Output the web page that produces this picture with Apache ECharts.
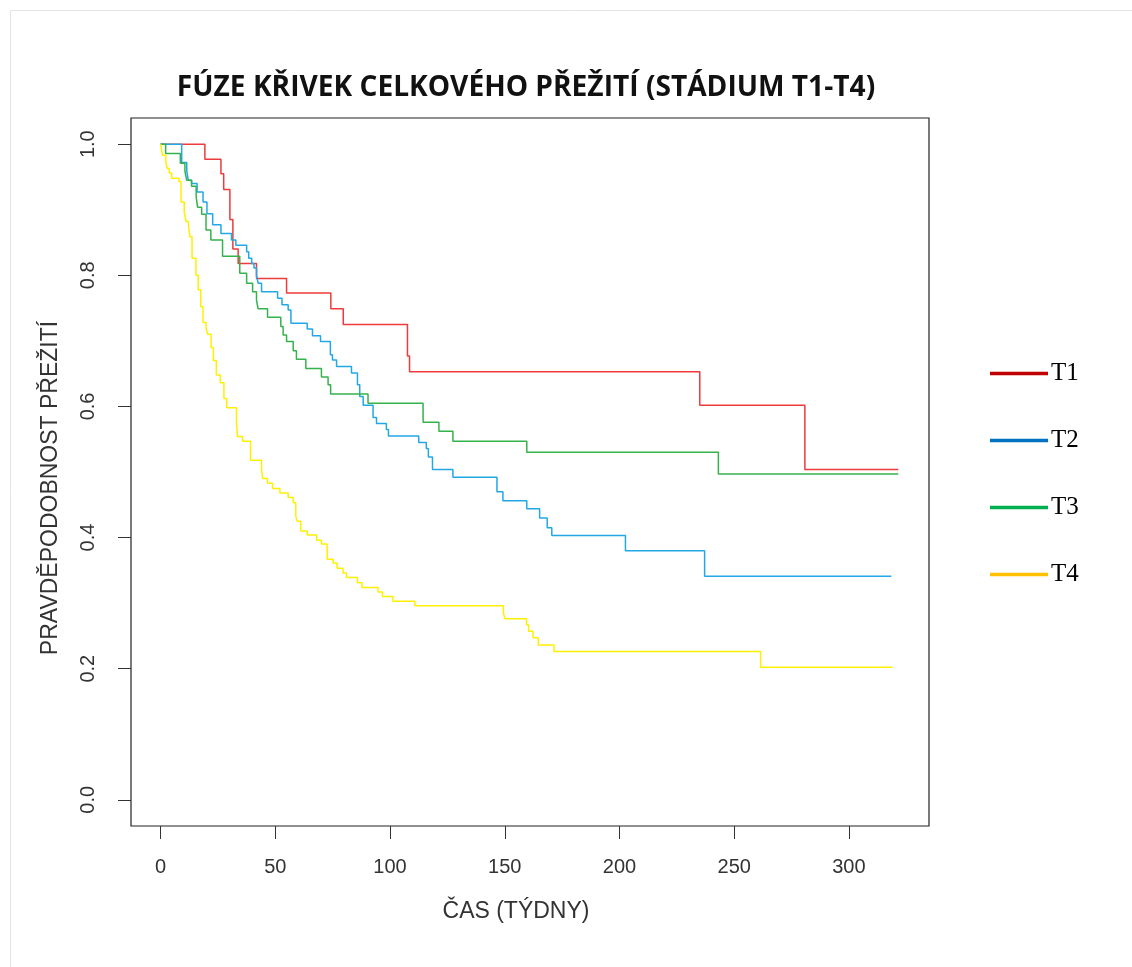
<!DOCTYPE html>
<html>
<head>
<meta charset="utf-8">
<title>Fúze křivek celkového přežití</title>
<script src="https://cdn.jsdelivr.net/npm/echarts@6/dist/echarts.min.js"></script>
<style>
  html, body { margin: 0; padding: 0; background: #fff; }
  #chart { width: 1132px; height: 967px; }
</style>
</head>
<body>
<div id="chart"></div>
<script>
// Kaplan–Meier survival estimates per tumour stage: event times (weeks) and survival after each step
const timeT1 = [0, 19.3, 26.3, 27.5, 30.2, 31.5, 33.8, 41.8, 54.9, 74.2, 79.6, 107.6, 108.5, 235.0, 280.8, 321.5];
const survT1 = [1.0, 0.977, 0.955, 0.931, 0.885, 0.840, 0.818, 0.795, 0.773, 0.749, 0.725, 0.677, 0.653, 0.602, 0.504, 0.504];

const timeT2 = [0, 9.2, 11.4, 12.1, 13.5, 15.9, 18.5, 20.2, 22.7, 26.3, 30.9, 32.8, 37.5, 38.4, 39.7, 40.7, 41.8, 42.5, 44.0,
  51.0, 52.9, 55.6, 56.8, 63.9, 66.2, 69.7, 74.0, 74.9, 76.7, 83.2, 85.8, 86.8, 88.3, 92.6, 94.1, 98.4, 99.3, 112.5, 115.8,
  116.7, 118.5, 127.4, 146.6, 149.2, 159.6, 165.2, 168.5, 170.5, 202.6, 237.1, 318.5];
const survT2 = [1.0, 0.972, 0.959, 0.945, 0.940, 0.927, 0.912, 0.894, 0.877, 0.864, 0.854, 0.846, 0.836, 0.826, 0.818, 0.811, 0.800, 0.788, 0.775,
  0.765, 0.755, 0.747, 0.727, 0.718, 0.708, 0.699, 0.679, 0.671, 0.661, 0.651, 0.633, 0.615, 0.602, 0.583, 0.574, 0.565, 0.555, 0.545, 0.536,
  0.523, 0.504, 0.492, 0.470, 0.456, 0.444, 0.430, 0.415, 0.403, 0.380, 0.341, 0.341];

const timeT3 = [0, 2.2, 8.6, 10.6, 11.4, 13.5, 15.5, 16.1, 17.9, 19.8, 21.9, 27.0, 34.5, 37.5, 40.1, 41.8, 42.5, 46.6, 52.4,
  53.4, 54.9, 57.8, 59.2, 63.3, 70.1, 73.0, 74.1, 90.4, 114.4, 121.3, 127.4, 159.6, 243.1, 321.5];
const survT3 = [1.0, 0.986, 0.971, 0.959, 0.945, 0.936, 0.920, 0.904, 0.893, 0.869, 0.854, 0.829, 0.803, 0.788, 0.775, 0.762, 0.749, 0.736, 0.722,
  0.709, 0.699, 0.685, 0.672, 0.658, 0.645, 0.633, 0.619, 0.605, 0.576, 0.562, 0.547, 0.530, 0.497, 0.497];

const timeT4 = [0, 0.8, 2.3, 2.9, 3.8, 4.8, 8.0, 8.9, 10.3, 11.1, 12.1, 12.8, 13.7, 15.4, 16.4, 17.5, 18.5, 19.8, 20.5, 22.0,
  23.0, 24.3, 26.0, 27.6, 28.8, 33.1, 33.5, 35.7, 39.2, 44.0, 44.5, 46.6, 48.8, 52.0, 55.6, 57.8, 58.9, 59.5, 61.1, 63.9,
  68.0, 70.1, 72.6, 75.2, 76.9, 79.5, 81.0, 85.8, 87.8, 94.8, 96.7, 101.3, 110.8, 149.4, 150.1, 159.5, 160.4, 162.3, 164.6,
  171.5, 261.5, 319.0];
const survT4 = [1.0, 0.983, 0.973, 0.963, 0.956, 0.948, 0.943, 0.912, 0.897, 0.882, 0.877, 0.859, 0.826, 0.800, 0.778, 0.752, 0.728, 0.720, 0.710, 0.690,
  0.670, 0.648, 0.636, 0.612, 0.598, 0.576, 0.554, 0.547, 0.518, 0.504, 0.490, 0.483, 0.475, 0.468, 0.461, 0.453, 0.433, 0.425, 0.410, 0.404,
  0.396, 0.390, 0.367, 0.361, 0.353, 0.346, 0.339, 0.331, 0.324, 0.317, 0.310, 0.303, 0.296, 0.285, 0.276, 0.267, 0.257, 0.247, 0.236,
  0.226, 0.202, 0.202];

const stageNames = ['T1', 'T2', 'T3', 'T4'];
const curveColors = ['#ee3a3a', '#22a8e6', '#34b24c', '#fff000'];
const legendColors = ['#c00000', '#0070c0', '#00b050', '#ffc000'];

const xTicks = [0, 50, 100, 150, 200, 250, 300];
const yTicks = [0, 0.2, 0.4, 0.6, 0.8, 1.0];

const titleText = 'FÚZE KŘIVEK CELKOVÉHO PŘEŽITÍ (STÁDIUM T1-T4)';
const xTitle = 'ČAS (TÝDNY)';
const yTitle = 'PRAVDĚPODOBNOST PŘEŽITÍ';

const times = [timeT1, timeT2, timeT3, timeT4];
const survs = [survT1, survT2, survT3, survT4];

const labelFont = '"Liberation Sans", Arial, sans-serif';

const series = stageNames.map((name, i) => ({
  name: name,
  type: 'line',
  step: 'end',
  showSymbol: false,
  symbol: 'none',
  silent: true,
  color: curveColors[i],
  lineStyle: { color: curveColors[i], width: 1.5 },
  data: times[i].map((t, k) => [t, survs[i][k]])
}));

const chart = echarts.init(document.getElementById('chart'), null, { renderer: 'canvas' });

chart.setOption({
  animation: false,
  backgroundColor: '#ffffff',
  grid: {
    left: 131, right: 203, top: 118, bottom: 141,
    show: true, borderColor: '#222', borderWidth: 1.2, backgroundColor: 'transparent'
  },
  xAxis: {
    type: 'value',
    min: -12.9, max: 334.9,
    axisLine: { show: false, onZero: false },
    splitLine: { show: false },
    axisTick: { show: true, length: 13, customValues: xTicks, lineStyle: { color: '#333', width: 1 } },
    axisLabel: {
      customValues: xTicks, margin: 31,
      color: '#333', fontSize: 20, fontFamily: labelFont
    }
  },
  yAxis: {
    type: 'value',
    min: -0.04, max: 1.04,
    axisLine: { show: false, onZero: false },
    splitLine: { show: false },
    axisTick: { show: true, length: 13, customValues: yTicks, lineStyle: { color: '#333', width: 1 } },
    axisLabel: {
      customValues: yTicks, margin: 33, rotate: 90,
      color: '#333', fontSize: 20, fontFamily: labelFont,
      formatter: v => v.toFixed(1)
    }
  },
  legend: {
    orient: 'vertical',
    left: 990, top: 361, padding: 0,
    itemWidth: 58, itemHeight: 3.5, itemGap: 42,
    selectedMode: false,
    icon: 'rect',
    textStyle: { color: '#000', fontSize: 25, fontFamily: '"Liberation Serif", "Times New Roman", serif', padding: [0, 0, 0, -2] },
    data: stageNames.map((n, i) => ({ name: n, icon: 'rect', itemStyle: { color: legendColors[i] } }))
  },
  graphic: [
    { type: 'rect', shape: { x: 10.5, y: 10.5, width: 1140, height: 980 }, style: { fill: 'none', stroke: '#e4e4e4', lineWidth: 1 }, silent: true },
    { type: 'text', x: 526, y: 88, scaleX: 0.97, style: { text: titleText, font: 'bold 29px "Open Sans", "Noto Sans", sans-serif', fill: '#111', align: 'center', verticalAlign: 'middle' } },
    { type: 'text', x: 516, y: 912, style: { text: xTitle, font: '23px ' + labelFont, fill: '#333', align: 'center', verticalAlign: 'middle' } },
    { type: 'text', x: 51, y: 488, rotation: Math.PI / 2, style: { text: yTitle, font: '23px ' + labelFont, fill: '#333', align: 'center', verticalAlign: 'middle' } }
  ],
  series: series
});
</script>
</body>
</html>
